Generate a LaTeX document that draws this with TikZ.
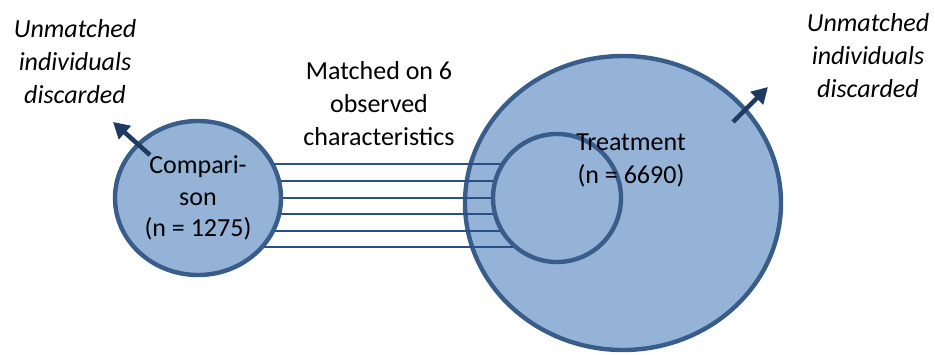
\documentclass[tikz,border=0pt]{standalone}
\usepackage{fontspec}
\setmainfont{Carlito}
\usetikzlibrary{shapes.geometric,arrows.meta,calc}
\definecolor{discfill}{HTML}{95B3D7}
\definecolor{discedge}{HTML}{385D8A}
\definecolor{linkblue}{HTML}{2B4F88}
\definecolor{arrowblue}{HTML}{1F3A60}
\pgfdeclarelayer{back}
\pgfdeclarelayer{links}
\pgfsetlayers{back,links,main}
\tikzset{
  disc/.style={ellipse, draw=discedge, fill=discfill, line width=3.3pt, inner sep=0pt},
  labeltext/.style={align=center, font=\fontsize{19.5pt}{24.4pt}\selectfont, inner sep=0pt, anchor=base},
  note/.style={labeltext, font=\fontsize{19.5pt}{24.6pt}\selectfont\itshape},
  link/.style={draw=linkblue, line width=1.9pt},
  discard/.style={draw=arrowblue, line width=3.4pt, -{Triangle[length=12pt,width=13pt]}}
}
\begin{document}
\begin{tikzpicture}[x=0.75pt,y=-0.75pt]
\useasboundingbox (0,0) rectangle (935,354);

% treatment pool, drawn underneath everything
\begin{pgfonlayer}{back}
  \node[disc, minimum width=237pt, minimum height=220.5pt] (treat) at (623,203) {};
\end{pgfonlayer}

% matched subset of the treatment group and the comparison group
\node[disc, minimum width=96pt, minimum height=96pt] (matched) at (557,198) {};
\node[disc, minimum width=124.5pt, minimum height=115.5pt, align=center,
      font=\fontsize{19.5pt}{23.6pt}\selectfont] (comp) at (198,198)
      {Compari-\\son\\(n = 1275)};

% matching links between the two groups
\begin{pgfonlayer}{links}
  \foreach \dy in {-34,-17,0,16,33,49}
    \draw[link] ($(comp.center)+(0,\dy)$) -- ($(matched.center)+(0,\dy)$);
\end{pgfonlayer}

% discarded individuals leaving each group
\coordinate (compout) at ($(comp.center)+(-85,-76)$);
\coordinate (treatout) at ($(treat.center)+(145,-116)$);
\draw[discard] ($(comp.center)+(-48,-43)$) -- (compout);
\draw[discard] ($(treat.center)+(110,-81)$) -- (treatout);

% labels (anchored at the baseline of their last line)
\node[labeltext] (treatlabel) at (631,183) {Treatment\\(n = 6690)};
\node[labeltext] (criteria) at (379,145) {Matched on 6\\observed\\characteristics};
\node[note] (leftnote) at (75,103) {Unmatched\\individuals\\discarded};
\node[note] (rightnote) at (868,97) {Unmatched\\individuals\\discarded};
\end{tikzpicture}
\end{document}
